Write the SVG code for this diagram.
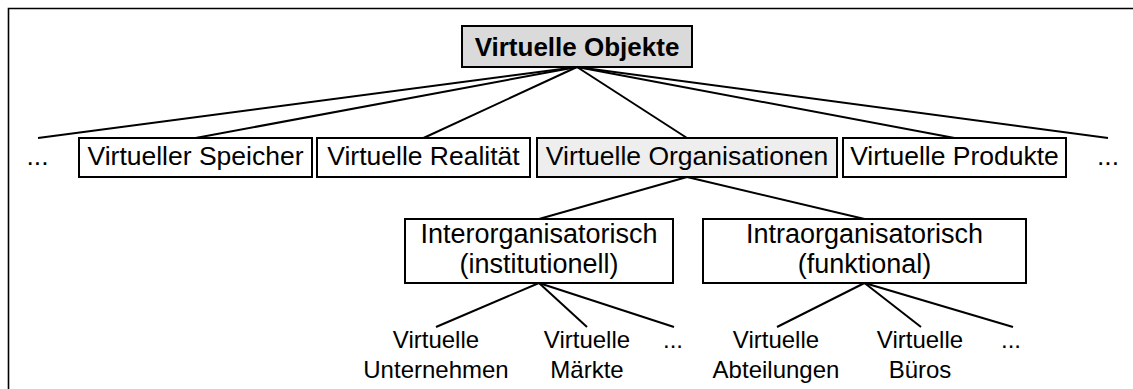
<svg xmlns="http://www.w3.org/2000/svg" width="1133" height="389" viewBox="0 0 1133 389">
<style>
text{font-family:"Liberation Sans",Arial,Helvetica,sans-serif;fill:#000;text-anchor:middle}
.box{fill:#fff;stroke:#000;stroke-width:2}
.top{fill:#dadada;stroke:#000;stroke-width:2}
.org{fill:#eeeeee;stroke:#000;stroke-width:2}
.t1{font-size:26px;font-weight:bold}
.t2{font-size:26.5px}
.t3{font-size:27px}
.t4{font-size:24px}
.conn line{stroke:#000;stroke-width:2}
</style>
<rect width="1133" height="389" fill="#fff"/>
<path d="M8.5,389 V8.5 H1133" fill="none" stroke="#000" stroke-width="1.6"/>
<g id="connectors" class="conn">
<line x1="577" y1="67" x2="38" y2="138"/>
<line x1="577" y1="67" x2="195.5" y2="138"/>
<line x1="577" y1="67" x2="423.5" y2="138"/>
<line x1="577" y1="67" x2="687" y2="138"/>
<line x1="577" y1="67" x2="954.5" y2="138"/>
<line x1="577" y1="67" x2="1108" y2="138"/>
<line x1="687" y1="177" x2="539" y2="219"/>
<line x1="687" y1="177" x2="864.5" y2="219"/>
<line x1="539" y1="283" x2="436" y2="327"/>
<line x1="539" y1="283" x2="587" y2="327"/>
<line x1="539" y1="283" x2="674" y2="327"/>
<line x1="864.5" y1="283" x2="777" y2="327"/>
<line x1="864.5" y1="283" x2="921" y2="327"/>
<line x1="864.5" y1="283" x2="1013" y2="327"/>
</g>
<g id="n-root"><rect class="top" x="462" y="26" width="230" height="41"/><text class="t1" x="577" y="56">Virtuelle Objekte</text></g>
<g id="n-dots-left"><text class="t2" x="37.5" y="165">...</text></g>
<g id="n-speicher"><rect class="box" x="79" y="138" width="233" height="39"/><text class="t2" x="195.5" y="165">Virtueller Speicher</text></g>
<g id="n-realitaet"><rect class="box" x="317" y="138" width="213" height="39"/><text class="t2" x="423.5" y="165">Virtuelle Realität</text></g>
<g id="n-organisationen"><rect class="org" x="537" y="138" width="300" height="39"/><text class="t2" x="687" y="165">Virtuelle Organisationen</text></g>
<g id="n-produkte"><rect class="box" x="843" y="138" width="223" height="39"/><text class="t2" x="954.5" y="165">Virtuelle Produkte</text></g>
<g id="n-dots-right"><text class="t2" x="1108" y="165">...</text></g>
<g id="n-inter"><rect class="box" x="405" y="219" width="268" height="64"/><text class="t3" x="539" y="243">Interorganisatorisch</text><text class="t3" x="539" y="273">(institutionell)</text></g>
<g id="n-intra"><rect class="box" x="703" y="219" width="323" height="64"/><text class="t3" x="864.5" y="243">Intraorganisatorisch</text><text class="t3" x="864.5" y="273">(funktional)</text></g>
<g id="n-unternehmen"><text class="t4" x="436" y="348">Virtuelle</text><text class="t4" x="436" y="378">Unternehmen</text></g>
<g id="n-maerkte"><text class="t4" x="587" y="348">Virtuelle</text><text class="t4" x="587" y="378">Märkte</text></g>
<g id="n-dots-inter"><text class="t4" x="673" y="348">...</text></g>
<g id="n-abteilungen"><text class="t4" x="776" y="348">Virtuelle</text><text class="t4" x="776" y="378">Abteilungen</text></g>
<g id="n-bueros"><text class="t4" x="920" y="348">Virtuelle</text><text class="t4" x="920" y="378">Büros</text></g>
<g id="n-dots-intra"><text class="t4" x="1011" y="348">...</text></g>
</svg>
